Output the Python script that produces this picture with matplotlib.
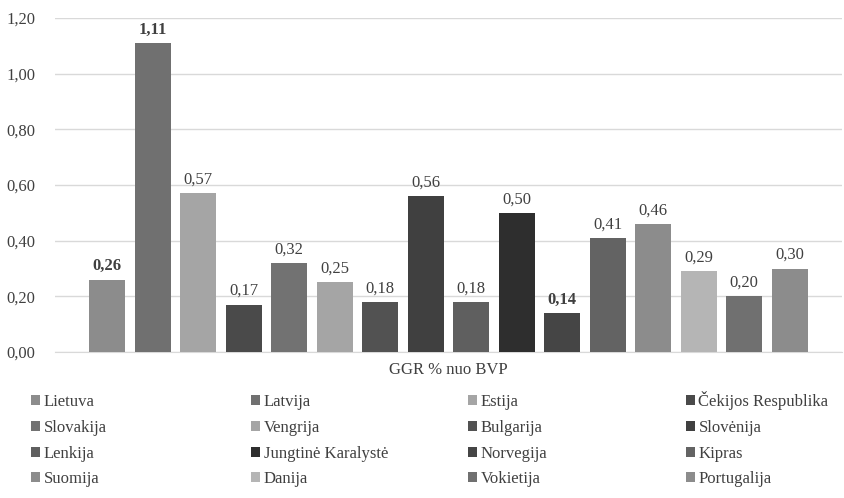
import matplotlib
matplotlib.use("Agg")
import matplotlib.pyplot as plt

plt.rcParams["font.family"] = ["Liberation Serif", "DejaVu Serif"]

# duomenys
countries = [
    "Lietuva", "Latvija", "Estija", "Čekijos Respublika",
    "Slovakija", "Vengrija", "Bulgarija", "Slovėnija",
    "Lenkija", "Jungtinė Karalystė", "Norvegija", "Kipras",
    "Suomija", "Danija", "Vokietija", "Portugalija",
]
ggr_values = [0.26, 1.11, 0.57, 0.17, 0.32, 0.25, 0.18, 0.56,
              0.18, 0.50, 0.14, 0.41, 0.46, 0.29, 0.20, 0.30]
bold_labels = ["Lietuva", "Latvija", "Norvegija"]
category = "GGR % nuo BVP"
y_ticks = [0.0, 0.2, 0.4, 0.6, 0.8, 1.0, 1.2]

colors = [
    "#8c8c8c", "#707070", "#a5a5a5", "#4a4a4a",
    "#727272", "#a5a5a5", "#525252", "#404040",
    "#5f5f5f", "#2e2e2e", "#454545", "#636363",
    "#8c8c8c", "#b5b5b5", "#707070", "#8c8c8c",
]

text_color = "#404040"
grid_color = "#d9d9d9"
fs = 12

fig = plt.figure(figsize=(8.44, 4.98), dpi=100)
ax = fig.add_axes([55 / 844, 146 / 498, 787 / 844, 334 / 498])

n = len(countries)
bars = []
for i, (name, val) in enumerate(zip(countries, ggr_values)):
    x = i - (n - 1) / 2
    b = ax.bar(x, val, width=0.79, color=colors[i], label=name, zorder=3)
    bars.append(b)
    ax.bar_label(
        b,
        labels=[f"{val:.2f}".replace(".", ",")],
        padding=4,
        fontsize=fs,
        color=text_color,
        fontweight="bold" if name in bold_labels else "normal",
    )

ax.set_xlim(-8.65, 8.65)
ax.set_ylim(0, 1.2)
ax.set_yticks(y_ticks)
ax.set_yticklabels([f"{t:.2f}".replace(".", ",") for t in y_ticks])
ax.set_xticks([0])
ax.set_xticklabels([category])

ax.tick_params(axis="y", length=0, pad=14, labelsize=fs, labelcolor=text_color)
ax.tick_params(axis="x", length=0, pad=7, labelsize=fs, labelcolor=text_color)
ax.grid(axis="y", color=grid_color, linewidth=1, zorder=0)
for side in ["top", "right", "left"]:
    ax.spines[side].set_visible(False)
ax.spines["bottom"].set_color(grid_color)

# legenda: 4 stulpeliai x 4 eilutės, kiekvienas įrašas atskirai
col_x = [31, 251, 468, 686]
row_bottom = [410, 436, 462, 487]
for i in range(n):
    r, c = divmod(i, 4)
    fig.legend(
        [bars[i]], [countries[i]],
        loc="lower left",
        bbox_to_anchor=(col_x[c] / 844, 1 - row_bottom[r] / 498),
        frameon=False,
        fontsize=fs,
        labelcolor=text_color,
        handlelength=0.55,
        handleheight=0.55,
        handletextpad=0.2,
        borderpad=0,
        borderaxespad=0,
    )

fig.savefig("out.png", dpi=100)
